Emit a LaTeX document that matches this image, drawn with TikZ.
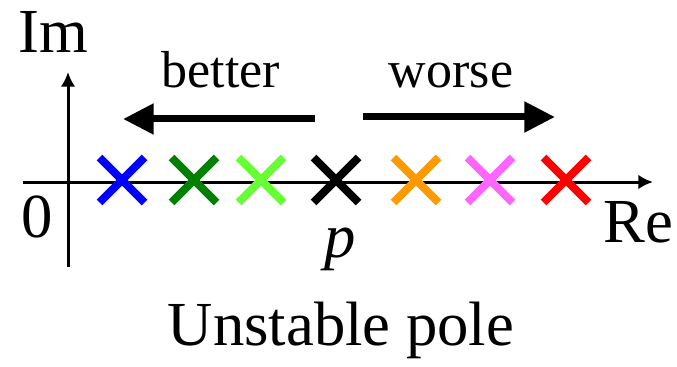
\documentclass[tikz,border=0pt]{standalone}
\usepackage{fontspec}
\setmainfont{Liberation Serif}
\usepackage{tikz}
\usetikzlibrary{arrows.meta,shapes.misc}
\definecolor{poleBlue}{HTML}{0000FF}
\definecolor{poleDarkGreen}{HTML}{008000}
\definecolor{poleLightGreen}{HTML}{66FF33}
\definecolor{poleOrange}{HTML}{FF9900}
\definecolor{polePink}{HTML}{FF66FF}
\definecolor{poleRed}{HTML}{FF0000}

\begin{document}
\begin{tikzpicture}[
  x=0.75pt,y=-0.75pt,
  axis/.style={draw=black,line width=2.25pt,-{Latex[length=11pt,width=11pt]}},
  trend/.style={draw=black,line width=5.25pt,-{Triangle[length=23pt,width=22pt]}},
  pole/.style={cross out,draw=#1,line width=6pt,minimum size=33.75pt,inner sep=0pt,outer sep=0pt},
  bigtext/.style={font=\fontsize{47}{50}\selectfont,inner sep=0pt,anchor=base},
  midtext/.style={font=\fontsize{39}{42}\selectfont,inner sep=0pt,anchor=base}
]
\useasboundingbox (0,0) rectangle (677,367);
% axes
\coordinate (reL) at (23,182);
\coordinate (reR) at (653,182);
\coordinate (imB) at (68,267);
\coordinate (imT) at (68,72);
\draw[axis] (reL) -- (reR);
\draw[axis] (imB) -- (imT);
\node[bigtext] (im) at (53,53) {Im};
\node[bigtext] (re) at (638,242) {Re};
\node[bigtext] (zero) at (37,237) {0};
% poles
\node[pole=poleBlue] (p1) at (122,180) {};
\node[pole=poleDarkGreen] (p2) at (194,180) {};
\node[pole=poleLightGreen] (p3) at (261,180) {};
\node[pole=black] (p0) at (336,180) {};
\node[pole=poleOrange] (p4) at (416,180) {};
\node[pole=polePink] (p5) at (490,180) {};
\node[pole=poleRed] (p6) at (566,180) {};
\node[bigtext,font=\fontsize{47}{50}\selectfont\itshape] (plabel) at (340,257) {p};
% trends
\coordinate (betterS) at (315,119);
\coordinate (betterE) at (123,119);
\coordinate (worseS) at (363,117);
\coordinate (worseE) at (555,117);
\draw[trend] (betterS) -- (betterE);
\draw[trend] (worseS) -- (worseE);
\node[midtext] (better) at (221,88) {better};
\node[midtext] (worse) at (451,88) {worse};
\node[bigtext] (title) at (341,345) {Unstable pole};
\end{tikzpicture}
\end{document}
